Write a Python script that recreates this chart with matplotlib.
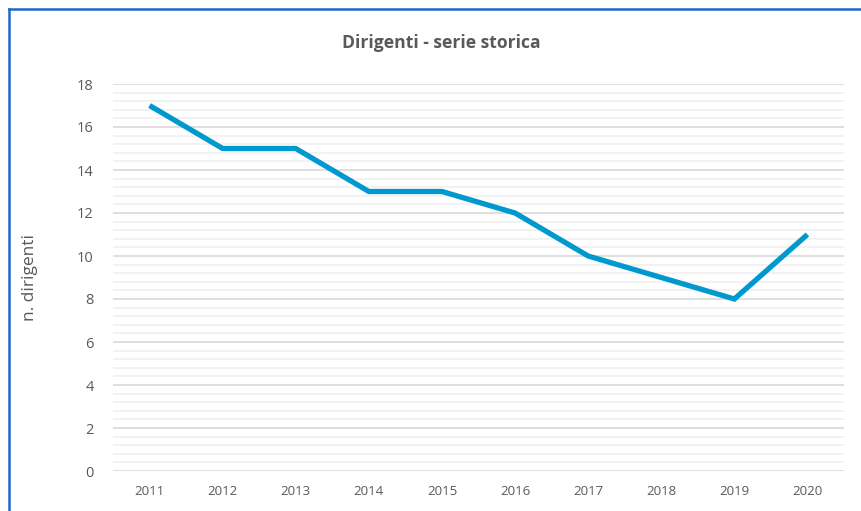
import matplotlib
matplotlib.use("Agg")
import matplotlib.pyplot as plt
from matplotlib.lines import Line2D
from matplotlib.ticker import MultipleLocator

years = ["2011", "2012", "2013", "2014", "2015", "2016", "2017", "2018", "2019", "2020"]
dirigenti = [17, 15, 15, 13, 13, 12, 10, 9, 8, 11]

W, H = 861, 511
fig = plt.figure(figsize=(W / 100, H / 100), dpi=100)
plt.rcParams['font.family'] = ['Open Sans', 'DejaVu Sans']

left, right = 113 / W, 844 / W
bottom, top = 1 - 471 / H, 1 - 84 / H
ax = fig.add_axes([left, bottom, right - left, top - bottom])

x = list(range(len(years)))
ax.plot(x, dirigenti, color="#0099CF", lw=3.8, solid_joinstyle="miter", solid_capstyle="butt", zorder=3)

ax.set_xlim(-0.5, len(years) - 0.5)
ax.set_ylim(0, 18)
ax.yaxis.set_major_locator(MultipleLocator(2))
ax.yaxis.set_minor_locator(MultipleLocator(0.4))
ax.grid(axis="y", which="major", color="#D9D9D9", lw=1.2, zorder=1)
ax.grid(axis="y", which="minor", color="#F0F0F0", lw=1.2, zorder=0)
ax.set_xticks(x)
ax.set_xticklabels(years)
for s in ax.spines.values():
    s.set_visible(False)
ax.tick_params(axis="both", which="both", length=0, colors="#595959", labelsize=9.5)
ax.tick_params(axis="x", pad=10)
ax.tick_params(axis="y", pad=14, labelsize=10.5)

fig.text(30 / W, 1 - 277 / H, "n. dirigenti", rotation=90, ha="center", va="center",
         color="#595959", fontsize=12.5)

fig.text(441 / W, 1 - 43 / H, "Dirigenti - serie storica", ha="center", va="center",
         color="#595959", fontsize=12.6, fontweight="bold")

# chart frame (partially visible)
fig.add_artist(Line2D([9 / W, 1], [1 - 9 / H, 1 - 9 / H], transform=fig.transFigure, color="#1F66CC", lw=1.8))
fig.add_artist(Line2D([9 / W, 9 / W], [0, 1 - 9 / H], transform=fig.transFigure, color="#1F66CC", lw=1.8))

fig.savefig("out.png", dpi=100)
